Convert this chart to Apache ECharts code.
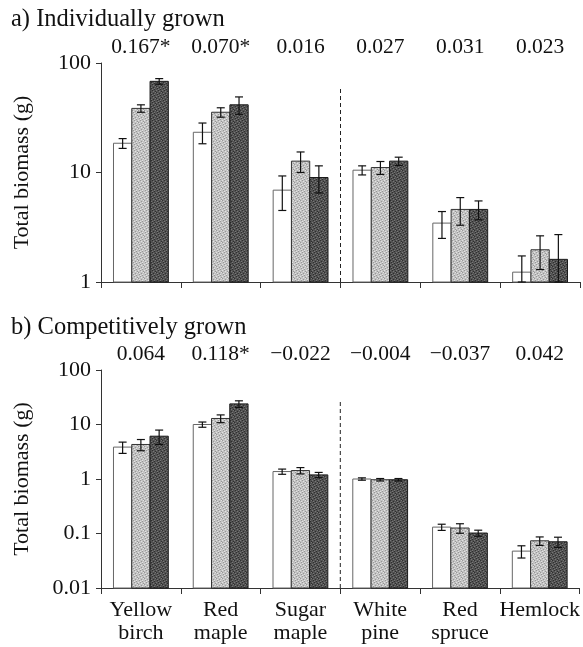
<!DOCTYPE html>
<html><head><meta charset="utf-8">
<script src="https://cdn.jsdelivr.net/npm/echarts@6/dist/echarts.min.js"></script>
<style>html,body{margin:0;padding:0;background:#fff}#c{width:583px;height:647px}</style>
</head><body><div id="c"></div>
<script>
// ---- data ----
const categories = ['Yellow\nbirch', 'Red\nmaple', 'Sugar\nmaple', 'White\npine', 'Red\nspruce', 'Hemlock'];
const indivCoef = ['0.167*', '0.070*', '0.016', '0.027', '0.031', '0.023'];
const compCoef = ['0.064', '0.118*', '\u22120.022', '\u22120.004', '\u22120.037', '0.042'];

const indivLow = [18.5, 23.3, 6.9, 10.5, 3.45, 1.23];
const indivMid = [38.5, 35.5, 12.7, 11.1, 4.6, 1.97];
const indivHigh = [68, 41.5, 9.0, 12.7, 4.6, 1.61];
const indivLowErr = [1.9, 5.0, 2.4, 1.0, 0.95, 0.5];
const indivMidErr = [3.0, 3.5, 2.7, 1.5, 1.3, 0.67];
const indivHighErr = [4.0, 7.5, 2.5, 1.1, 0.9, 1.1];

const compLow = [3.85, 10.0, 1.37, 1.0, 0.131, 0.0475];
const compMid = [4.3, 12.9, 1.43, 0.97, 0.126, 0.0735];
const compHigh = [6.1, 23.9, 1.19, 0.97, 0.102, 0.0705];
const compLowErr = [0.9, 1.1, 0.15, 0.05, 0.017, 0.012];
const compMidErr = [1.0, 2.1, 0.19, 0.05, 0.025, 0.013];
const compHighErr = [1.8, 3.3, 0.13, 0.05, 0.013, 0.015];

const yTicksTop = [1, 10, 100];
const yTicksBottom = [0.01, 0.1, 1, 10, 100];
const dividerTop = [1, 59];
const dividerBottom = [0.01, 29];

// ---- styles ----
const FONT = 'Liberation Serif';
function makePattern(base, light, dark) {
  const n = 6;
  const c = document.createElement('canvas');
  c.width = n; c.height = n;
  const ctx = c.getContext('2d');
  ctx.fillStyle = base; ctx.fillRect(0, 0, n, n);
  const lightPts = [[0,0],[3,1],[5,2],[1,3],[4,4],[2,5]];
  const darkPts = [[2,0],[5,1],[0,2],[3,3],[1,4],[4,5]];
  ctx.fillStyle = light; lightPts.forEach(p => ctx.fillRect(p[0], p[1], 1, 1));
  ctx.fillStyle = dark; darkPts.forEach(p => ctx.fillRect(p[0], p[1], 1, 1));
  return { image: c, repeat: 'repeat' };
}
const fills = [
  '#ffffff',
  makePattern('#c2c2c2', '#e2e2e2', '#979797'),
  makePattern('#525252', '#777777', '#2e2e2e')
];
const strokes = ['#666', '#333', '#1a1a1a'];
const BAR_FRAC = 0.229;

function barSeries(gridIdx, sIdx, means, errs, axisMin) {
  return {
    type: 'custom',
    xAxisIndex: gridIdx * 2,
    yAxisIndex: gridIdx,
    data: means.map((m, i) => [i, m, errs[i]]),
    renderItem: function (params, api) {
      const i = api.value(0), m = api.value(1), e = api.value(2);
      const c = api.coord([i, m]);
      const band = api.coord([1, m])[0] - api.coord([0, m])[0];
      const bw = band * BAR_FRAC;
      const x0 = c[0] - 1.5 * bw + sIdx * bw;
      const base = api.coord([i, axisMin])[1];
      const top = api.coord([i, m + e])[1];
      const low = api.coord([i, Math.max(m - e, axisMin)])[1];
      const xc = x0 + bw / 2;
      const cap = 4;
      return {
        type: 'group',
        children: [
          { type: 'rect', shape: { x: x0, y: c[1], width: bw, height: base - c[1] },
            style: { fill: fills[sIdx], stroke: strokes[sIdx], lineWidth: 1 } },
          { type: 'line', shape: { x1: xc, y1: top, x2: xc, y2: low }, style: { stroke: '#111', lineWidth: 1.2 } },
          { type: 'line', shape: { x1: xc - cap, y1: top, x2: xc + cap, y2: top }, style: { stroke: '#111', lineWidth: 1.2 } },
          { type: 'line', shape: { x1: xc - cap, y1: low, x2: xc + cap, y2: low }, style: { stroke: '#111', lineWidth: 1.2 } }
        ]
      };
    }
  };
}

function dividerSeries(gridIdx, range) {
  return {
    type: 'custom',
    xAxisIndex: gridIdx * 2,
    yAxisIndex: gridIdx,
    data: [[2, range[0], range[1]]],
    renderItem: function (params, api) {
      const a = api.coord([2, range[0]]);
      const b = api.coord([3, range[1]]);
      const x = (a[0] + b[0]) / 2;
      return { type: 'line', shape: { x1: x, y1: a[1], x2: x, y2: b[1] },
        style: { stroke: '#222', lineWidth: 1, lineDash: [4, 3] } };
    }
  };
}

function yAxis(gridIdx, min, max) {
  return {
    type: 'log', logBase: 10, gridIndex: gridIdx, min: min, max: max,
    name: 'Total biomass (g)', nameLocation: 'middle', nameGap: 68,
    nameTextStyle: { fontFamily: FONT, fontSize: 22, color: '#111' },
    axisLine: { show: true, lineStyle: { color: '#333', width: 1 } },
    axisTick: { show: true, length: 5, lineStyle: { color: '#333' } },
    minorTick: { show: false },
    splitLine: { show: false },
    axisLabel: { fontFamily: FONT, fontSize: 22, color: '#111', margin: 10,
      formatter: v => (v >= 1 ? String(Math.round(v)) : String(parseFloat(Number(v).toPrecision(2)))) }
  };
}

function xAxisMain(gridIdx, showLabels) {
  return {
    type: 'category', gridIndex: gridIdx, data: categories, position: 'bottom',
    axisLine: { show: true, onZero: false, lineStyle: { color: '#333', width: 1 } },
    axisTick: { show: true, length: 6, lineStyle: { color: '#333' } },
    axisLabel: { show: showLabels, fontFamily: FONT, fontSize: 22, lineHeight: 23, color: '#111', margin: 11, interval: 0 },
    splitLine: { show: false }
  };
}
function xAxisCoef(gridIdx, labels) {
  return {
    type: 'category', gridIndex: gridIdx, data: labels, position: 'top',
    axisLine: { show: false }, axisTick: { show: false }, splitLine: { show: false },
    axisLabel: { fontFamily: FONT, fontSize: 21.5, color: '#111', margin: 5, interval: 0 }
  };
}

const chart = echarts.init(document.getElementById('c'), null, { renderer: 'canvas' });
chart.setOption({
  animation: false,
  backgroundColor: '#fff',
  title: [
    { text: 'a) Individually grown', left: 6, top: 2, textStyle: { fontFamily: FONT, fontSize: 24.5, fontWeight: 'normal', color: '#111' } },
    { text: 'b) Competitively grown', left: 6, top: 310, textStyle: { fontFamily: FONT, fontSize: 24.5, fontWeight: 'normal', color: '#111' } }
  ],
  grid: [
    { left: 101, right: 3, top: 63, height: 219 },
    { left: 101, right: 3, top: 370, height: 218 }
  ],
  xAxis: [xAxisMain(0, false), xAxisCoef(0, indivCoef), xAxisMain(1, true), xAxisCoef(1, compCoef)],
  yAxis: [yAxis(0, yTicksTop[0], yTicksTop[yTicksTop.length - 1]), yAxis(1, yTicksBottom[0], yTicksBottom[yTicksBottom.length - 1])],
  series: [
    dividerSeries(0, dividerTop),
    dividerSeries(1, dividerBottom),
    barSeries(0, 0, indivLow, indivLowErr, yTicksTop[0]),
    barSeries(0, 1, indivMid, indivMidErr, yTicksTop[0]),
    barSeries(0, 2, indivHigh, indivHighErr, yTicksTop[0]),
    barSeries(1, 0, compLow, compLowErr, yTicksBottom[0]),
    barSeries(1, 1, compMid, compMidErr, yTicksBottom[0]),
    barSeries(1, 2, compHigh, compHighErr, yTicksBottom[0])
  ]
});
</script>
</body></html>
